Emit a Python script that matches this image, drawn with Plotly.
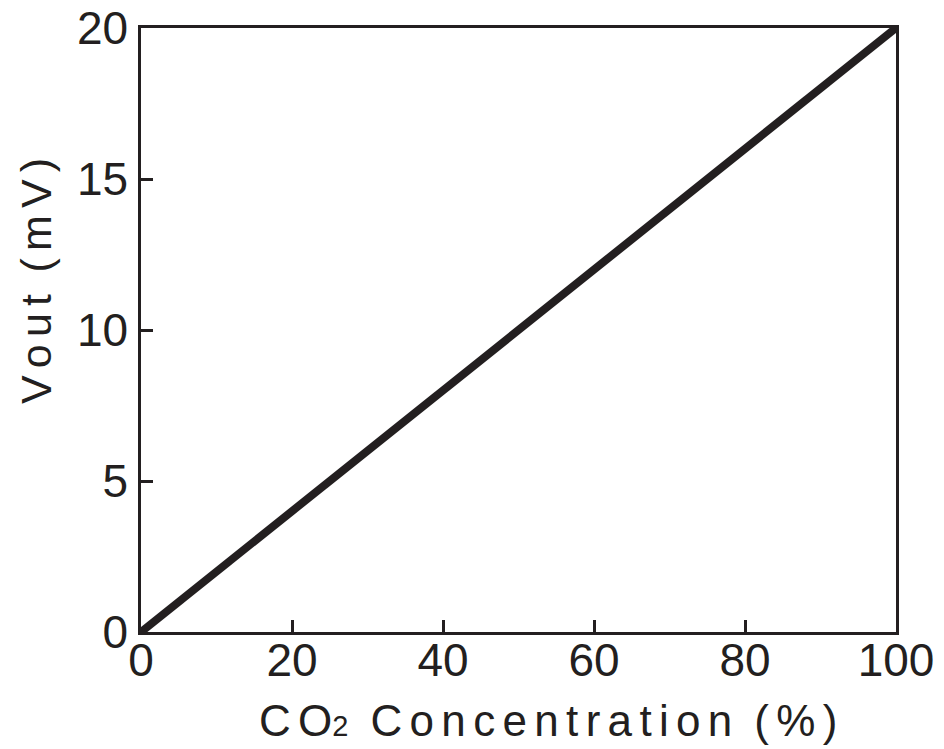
import plotly.graph_objects as go

co2_pct = [0, 20, 40, 60, 80, 100]
vout_mv = [0, 4, 8, 12, 16, 20]
x_ticks = [0, 20, 40, 60, 80, 100]
y_ticks = [0, 5, 10, 15, 20]

INK = "#231f20"
FONT = "Liberation Sans, Arial"
TS = "\u2006"
WS = "\u2002"

def spaced(s):
    return TS.join(list(s))

x_title = "C" + TS + "O" + "<span style='font-size:29px'>2</span>" + WS + spaced("Concentration") + WS + spaced("(%)")
y_title = spaced("Vout") + WS + spaced("(mV)")

fig = go.Figure()
fig.add_trace(go.Scatter(x=co2_pct, y=vout_mv, mode="lines",
                         line=dict(color=INK, width=8), cliponaxis=False))

axis_common = dict(showgrid=False, zeroline=False, showline=True, linecolor=INK,
                   linewidth=2.5, mirror=True, ticks="inside", ticklen=12,
                   tickwidth=2.5, tickcolor=INK, automargin=False,
                   ticklabeloverflow="allow",
                   tickfont=dict(family=FONT, size=46, color=INK))

fig.update_xaxes(range=[0, 100], tickvals=x_ticks, ticktext=[str(v) for v in x_ticks],
                 ticklabelstandoff=-14, **axis_common)
fig.update_yaxes(range=[0, 20], tickvals=y_ticks, ticktext=[str(v) for v in y_ticks],
                 ticklabelstandoff=1, **axis_common)

# page body adds an 8px offset
OFF = 8
W, H = 944, 749
L, T = 141 - OFF, 28 - OFF
R = W - (896 - OFF)
B = H - (632 - OFF)
pw, ph = W - L - R, H - T - B

def px(x):
    return (x - OFF - L) / pw

def py(y):
    return (H - B - (y - OFF)) / ph

fig.add_annotation(text=x_title, xref="paper", yref="paper", x=px(548), y=py(720),
                   showarrow=False, xanchor="center", yanchor="middle",
                   font=dict(family=FONT, size=44, color=INK))
fig.add_annotation(text=y_title, xref="paper", yref="paper", x=px(36), y=py(281),
                   showarrow=False, xanchor="center", yanchor="middle", textangle=-90,
                   font=dict(family=FONT, size=43, color=INK))

fig.update_layout(width=W, height=H, plot_bgcolor="white", paper_bgcolor="white",
                  margin=dict(l=L, r=R, t=T, b=B), showlegend=False)

fig.write_html("out.html")
